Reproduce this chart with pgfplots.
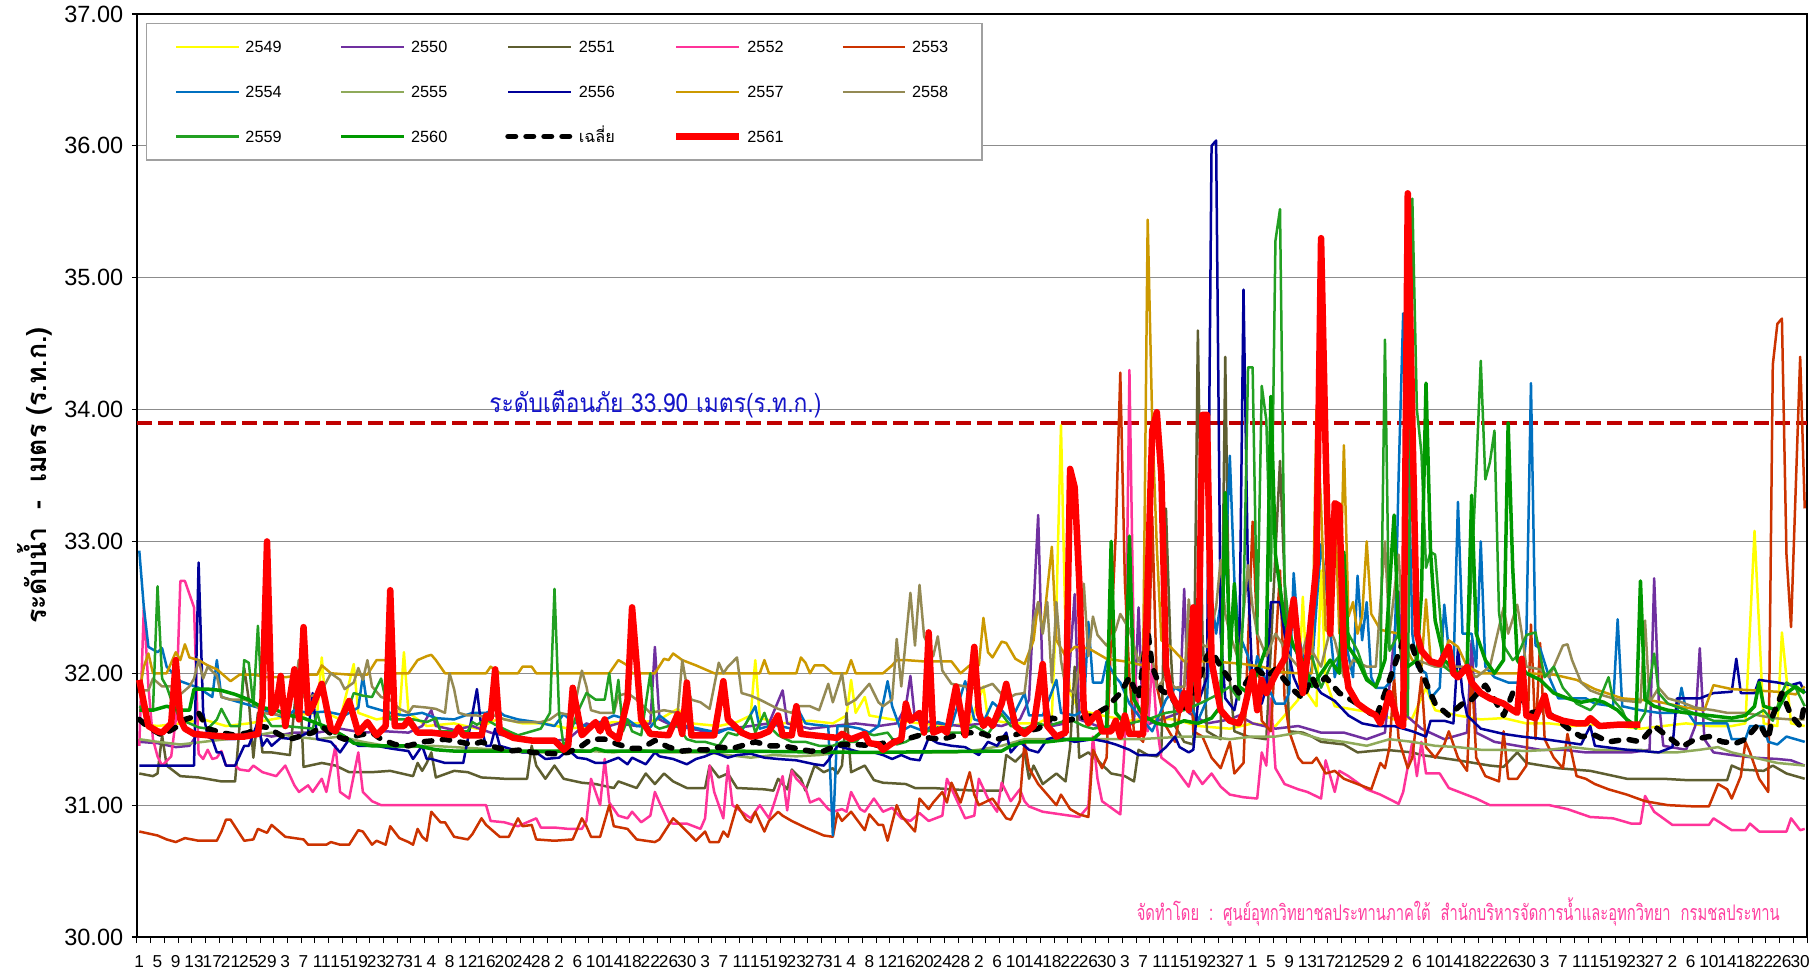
\documentclass[border=0pt]{standalone}
\usepackage{fontspec}
\setmainfont{Liberation Sans}
\newfontfamily\thaifont[Script=Thai]{Loma}
\usepackage{pgfplots}
\pgfplotsset{compat=1.18}
\definecolor{c2549}{HTML}{FFFF00}
\definecolor{c2550}{HTML}{7030A0}
\definecolor{c2551}{HTML}{5E5E30}
\definecolor{c2552}{HTML}{FF3399}
\definecolor{c2553}{HTML}{CC3300}
\definecolor{c2554}{HTML}{0070C0}
\definecolor{c2555}{HTML}{8FAA5A}
\definecolor{c2556}{HTML}{000099}
\definecolor{c2557}{HTML}{CC9900}
\definecolor{c2558}{HTML}{948A54}
\definecolor{c2559}{HTML}{22A022}
\definecolor{c2560}{HTML}{009900}
\definecolor{c2561}{HTML}{FF0000}
\definecolor{warn}{HTML}{C00000}
\definecolor{annot}{HTML}{1414C8}
\definecolor{credit}{HTML}{FF3FA0}
\definecolor{gridgray}{HTML}{8C8C8C}
\definecolor{legendgray}{HTML}{A0A0A0}
\begin{document}
\begin{tikzpicture}
\useasboundingbox (-54.8pt,-12.8pt) rectangle (672.4pt,374.8pt);
\begin{axis}[
  at={(0pt,0pt)}, anchor=south west,
  scale only axis, width=668pt, height=369.2pt,
  xmin=0.5, xmax=366.5, ymin=30, ymax=37,
  clip=false,
  axis line style={black, line width=0.6pt},
  tick pos=left,
  tick align=outside,
  xtick={1,5,...,365},
  xticklabels={1,5,9,13,17,21,25,29,3,7,11,15,19,23,27,31,4,8,12,16,20,24,28,2,6,10,14,18,22,26,30,3,7,11,15,19,23,27,31,4,8,12,16,20,24,28,2,6,10,14,18,22,26,30,3,7,11,15,19,23,27,1,5,9,13,17,21,25,29,2,6,10,14,18,22,26,30,3,7,11,15,19,23,27,2,6,10,14,18,22,26,30},
  major x tick style={draw=none},
  minor xtick={0.5,3.5,...,366.5},
  minor x tick style={black, line width=0.4pt},
  minor tick length=2.4pt,
  ytick={30,31,...,37},
  major tick length=2pt,
  major y tick style={black, line width=0.5pt},
  ymajorgrids, grid style={color=gridgray, line width=0.45pt},
  yticklabel style={font=\fontsize{9.4}{10}\selectfont, /pgf/number format/.cd, fixed, fixed zerofill, precision=2, assume math mode=true},
  xticklabel style={font=\fontsize{6.9}{7}\selectfont, yshift=-1.9pt},
  legend columns=5,
  legend style={at={(0,1)}, anchor=north west, xshift=3.6pt, yshift=-3.6pt, draw=legendgray, line width=0.6pt, fill=white, font=\fontsize{6.5}{7.5}\selectfont, inner xsep=11.3pt, inner ysep=4.35pt, row sep=8pt, nodes={text height=5pt, text depth=0.5pt, inner sep=2.2pt}, /tikz/every even column/.append style={column sep=21pt}, cells={anchor=west}},
  legend image code/.code={\draw[#1] (0pt,0pt) -- (25pt,0pt);},
  every axis plot/.append style={line join=round},
]
\addplot[forget plot, color=warn, line width=1.8pt, dash pattern=on 6pt off 2.4pt] coordinates {(0.5,33.9) (366.5,33.9)};

\addplot[color=c2549, line width=1pt] coordinates {(1,31.62)(5,31.6)(10,31.62)(15,31.65)(20,31.6)(25,31.62)(30,31.65)(35,31.68)(40,31.7)(41,32.12)(42,31.7)(45,31.65)(48,32.07)(49,31.7)(53,31.65)(58,31.68)(59,32.16)(60,31.7)(64,31.6)(70,31.62)(75,31.58)(80,31.66)(85,31.62)(90,31.62)(95,31.58)(100,31.6)(105,31.63)(110,31.62)(115,31.65)(119,31.73)(122,31.62)(128,31.6)(132,31.63)(135,31.68)(136,32.1)(137,31.66)(142,31.62)(148,31.64)(153,31.62)(156,31.68)(157,31.95)(158,31.7)(160,31.82)(161,31.68)(166,31.65)(172,31.62)(178,31.6)(183,31.62)(186,31.9)(187,31.65)(192,31.62)(198,31.62)(201,31.68)(202,32.5)(203,33.88)(204,32.3)(205,31.85)(207,31.72)(212,31.68)(218,31.64)(222,31.66)(228,31.65)(233,31.6)(240,31.58)(245,31.62)(250,31.6)(255,31.8)(256,32.58)(257,31.85)(259,31.75)(260,32.78)(261,31.95)(263,31.75)(268,31.72)(272,31.7)(276,31.65)(280,31.66)(283,31.89)(285,31.72)(290,31.68)(295,31.65)(300,31.66)(305,31.62)(310,31.62)(315,31.6)(320,31.61)(325,31.6)(330,31.58)(335,31.6)(340,31.62)(345,31.6)(350,31.6)(353,31.62)(355,33.08)(357,31.62)(360,31.6)(361,32.31)(363,31.62)(366,31.6)};
\addlegendentry{2549}

\addplot[color=c2550, line width=1pt] coordinates {(1,31.48)(5,31.47)(9,31.44)(12,31.45)(14,31.55)(18,31.5)(22,31.5)(26,31.55)(30,31.52)(35,31.55)(40,31.55)(45,31.58)(50,31.55)(55,31.56)(60,31.55)(63,31.6)(65,31.72)(66,31.6)(70,31.57)(74,31.6)(78,31.55)(82,31.52)(86,31.5)(90,31.48)(95,31.5)(99,31.62)(102,31.58)(106,31.62)(110,31.6)(113,31.62)(114,32.2)(115,31.65)(118,31.6)(122,31.58)(126,31.55)(130,31.58)(135,31.6)(139,31.62)(142,31.87)(143,31.62)(148,31.58)(153,31.6)(158,31.62)(163,31.6)(167,31.62)(169,31.75)(170,31.98)(171,31.65)(176,31.62)(181,31.6)(186,31.62)(190,31.6)(194,31.65)(196,31.8)(198,33.2)(199,31.9)(201,31.6)(204,31.62)(206,32.6)(207,31.65)(211,31.6)(215,31.58)(219,31.62)(220,32.5)(221,31.6)(225,31.65)(229,31.7)(230,32.64)(231,31.7)(235,31.62)(240,31.65)(242,31.68)(245,31.62)(250,31.58)(255,31.6)(260,31.55)(265,31.55)(270,31.5)(274,31.55)(277,32.62)(278,31.7)(282,31.58)(287,31.5)(292,31.55)(293,32.25)(294,31.55)(298,31.48)(303,31.45)(308,31.42)(313,31.42)(318,31.4)(323,31.4)(328,31.4)(332,31.42)(333,32.72)(334,31.8)(335,31.45)(340,31.42)(342,31.6)(343,32.19)(344,31.5)(346,31.4)(350,31.38)(355,31.36)(360,31.35)(363,31.34)(366,31.3)};
\addlegendentry{2550}

\addplot[color=c2551, line width=1pt] coordinates {(1,31.24)(4,31.22)(5,31.24)(6,31.53)(7,31.3)(10,31.22)(14,31.21)(19,31.18)(22,31.18)(24,32.04)(25,31.8)(26,31.36)(27,31.7)(28,31.4)(30,31.4)(34,31.38)(36,32.1)(37,31.29)(41,31.32)(44,31.3)(47,31.25)(52,31.25)(56,31.26)(61,31.22)(62,31.32)(63,31.26)(64,31.32)(65,31.4)(66,31.21)(70,31.26)(73,31.25)(76,31.21)(81,31.2)(86,31.2)(87,31.45)(88,31.3)(90,31.2)(92,31.3)(94,31.2)(98,31.17)(101,31.16)(105,31.13)(106,31.18)(110,31.13)(112,31.24)(114,31.16)(116,31.24)(118,31.18)(121,31.13)(125,31.13)(126,31.3)(128,31.21)(130,31.24)(132,31.13)(138,31.12)(140,31.11)(141,31.2)(143,31.12)(144,31.27)(146,31.2)(147,31.11)(149,31.3)(151,31.25)(153,31.28)(154,31.24)(155,31.3)(156,31.7)(157,31.25)(160,31.3)(162,31.19)(164,31.17)(169,31.16)(171,31.13)(175,31.13)(179,31.12)(184,31.11)(190,31.11)(191,31.38)(193,31.33)(195,31.4)(196,31.2)(197,31.3)(199,31.16)(202,31.24)(204,31.18)(205,31.44)(206,32.05)(207,31.36)(209,31.4)(211,31.34)(214,31.24)(217,31.22)(219,31.18)(220,31.42)(222,31.38)(224,31.37)(225,31.4)(226,33.25)(227,32.2)(228,31.6)(230,31.48)(232,31.46)(233,34.6)(234,32.3)(235,31.56)(238,31.5)(239,34.4)(240,31.95)(241,31.56)(244,31.52)(248,31.5)(251,33.61)(252,32.7)(253,31.56)(256,31.55)(258,31.52)(260,31.48)(265,31.46)(268,31.4)(274,31.42)(280,31.4)(282,31.38)(290,31.34)(297,31.3)(300,31.29)(303,31.4)(305,31.32)(312,31.28)(319,31.26)(327,31.2)(335,31.2)(340,31.19)(349,31.19)(350,31.3)(352,31.27)(357,31.26)(359,31.3)(362,31.24)(366,31.2)};
\addlegendentry{2551}

\addplot[color=c2552, line width=1pt] coordinates {(1,31.45)(2,32.5)(3,31.9)(4,31.5)(5,31.37)(6,31.3)(8,31.37)(9,31.65)(10,32.7)(11,32.7)(13,32.5)(14,31.39)(15,31.35)(16,31.42)(17,31.35)(18,31.36)(19,31.41)(20,31.3)(22,31.3)(23,31.27)(25,31.26)(26,31.3)(28,31.25)(31,31.22)(33,31.3)(35,31.15)(36,31.1)(38,31.15)(39,31.1)(41,31.2)(42,31.1)(44,31.45)(45,31.1)(47,31.05)(49,31.4)(50,31.1)(52,31.03)(54,31.0)(65,31.0)(77,31.0)(78,30.88)(81,30.87)(84,30.84)(88,30.9)(89,30.83)(92,30.83)(95,30.82)(98,30.82)(99,30.88)(100,31.2)(102,31.0)(103,31.35)(104,31.02)(106,30.92)(108,30.9)(109,30.95)(111,30.87)(113,30.92)(114,31.1)(115,31.02)(117,30.87)(118,30.86)(121,30.86)(124,30.82)(125,30.9)(126,31.3)(127,31.1)(129,30.9)(130,31.3)(131,31.0)(133,30.95)(135,30.9)(137,31.0)(139,30.9)(140,31.0)(142,31.22)(143,30.96)(144,31.26)(145,31.2)(147,31.13)(148,31.02)(150,31.05)(152,30.97)(153,30.95)(155,30.97)(156,30.95)(157,31.1)(159,30.97)(160,30.95)(162,31.05)(164,30.95)(166,30.98)(168,30.9)(170,30.88)(172,30.94)(174,30.88)(177,30.92)(178,31.2)(180,31.05)(182,30.9)(184,30.92)(185,31.2)(187,31.05)(189,30.95)(190,31.17)(191,31.1)(192,31.03)(194,31.12)(195,31.03)(196,30.99)(199,30.95)(203,30.93)(207,30.91)(209,30.99)(210,31.52)(211,31.2)(212,31.03)(214,30.98)(216,30.93)(217,31.48)(218,34.3)(219,32.09)(220,31.68)(222,31.56)(223,32.09)(224,31.6)(225,31.36)(228,31.28)(231,31.14)(232,31.26)(234,31.16)(236,31.24)(238,31.14)(240,31.08)(243,31.06)(246,31.05)(247,31.4)(248,31.3)(249,31.81)(250,31.28)(252,31.16)(255,31.12)(257,31.1)(260,31.05)(261,31.34)(263,31.1)(264,31.26)(266,31.22)(270,31.12)(273,31.08)(277,31.01)(278,31.1)(280,31.48)(281,31.22)(282,31.48)(283,31.24)(286,31.24)(288,31.13)(291,31.09)(294,31.05)(297,31.0)(310,31.0)(314,30.97)(319,30.91)(324,30.9)(328,30.86)(330,30.86)(331,31.07)(333,30.95)(337,30.85)(345,30.85)(346,30.9)(350,30.81)(353,30.81)(354,30.86)(356,30.8)(362,30.8)(363,30.9)(365,30.81)(366,30.82)};
\addlegendentry{2552}

\addplot[color=c2553, line width=1pt] coordinates {(1,30.8)(5,30.77)(7,30.74)(9,30.72)(11,30.75)(14,30.73)(18,30.73)(19,30.8)(20,30.89)(21,30.89)(24,30.73)(26,30.74)(27,30.82)(29,30.79)(30,30.85)(31,30.82)(33,30.76)(37,30.74)(38,30.7)(42,30.7)(43,30.72)(45,30.7)(47,30.7)(49,30.81)(50,30.8)(52,30.7)(53,30.73)(55,30.7)(56,30.84)(58,30.75)(60,30.72)(61,30.7)(62,30.82)(63,30.76)(64,30.73)(65,30.95)(67,30.87)(68,30.87)(70,30.76)(73,30.74)(74,30.78)(76,30.9)(77,30.85)(80,30.76)(82,30.76)(84,30.9)(85,30.84)(87,30.85)(88,30.74)(92,30.73)(96,30.74)(98,30.9)(99,30.84)(100,30.76)(102,30.76)(104,31.0)(105,30.84)(108,30.82)(110,30.74)(114,30.72)(115,30.74)(118,30.9)(119,30.87)(121,30.8)(123,30.73)(125,30.8)(126,30.72)(128,30.72)(129,30.8)(130,30.76)(132,31.0)(134,30.89)(135,30.87)(136,30.95)(138,30.8)(139,30.88)(141,30.95)(142,30.92)(144,30.88)(147,30.83)(149,30.8)(151,30.77)(153,30.76)(154,30.94)(155,30.88)(157,30.95)(160,30.81)(161,30.93)(163,30.85)(164,30.85)(165,30.73)(167,31.0)(168,30.92)(171,30.8)(172,31.05)(174,30.97)(175,31.02)(177,31.1)(178,31.02)(179,31.17)(181,31.02)(183,31.25)(184,31.08)(185,31.0)(188,31.05)(190,30.95)(191,30.9)(192,30.89)(194,31.03)(195,31.48)(196,31.28)(198,31.16)(200,31.08)(202,31.0)(203,31.08)(205,30.97)(207,30.93)(209,30.91)(210,31.42)(212,31.28)(213,31.36)(214,32.29)(215,33.06)(216,34.28)(217,32.7)(218,31.97)(219,31.55)(221,31.48)(222,31.77)(223,33.19)(224,31.9)(226,31.6)(228,31.48)(230,31.89)(231,32.4)(232,31.56)(234,31.52)(236,31.36)(238,31.28)(240,31.48)(241,31.24)(243,31.32)(245,33.15)(246,32.3)(247,31.64)(249,31.56)(251,32.78)(252,31.81)(253,31.56)(255,31.36)(256,31.32)(258,31.32)(259,31.36)(261,31.24)(263,31.26)(265,31.2)(268,31.16)(271,31.12)(273,31.32)(274,31.28)(275,31.44)(276,31.97)(277,31.5)(279,31.28)(280,31.36)(282,31.97)(283,31.44)(285,31.36)(287,31.46)(288,31.56)(290,31.36)(292,31.26)(293,32.05)(294,31.36)(296,31.22)(299,31.18)(300,31.56)(301,31.2)(303,31.2)(305,31.3)(306,32.37)(307,31.5)(308,32.23)(309,31.5)(311,31.36)(313,31.28)(314,31.54)(316,31.22)(318,31.2)(320,31.16)(323,31.12)(327,31.08)(331,31.03)(336,31.0)(342,30.99)(345,30.99)(347,31.16)(349,31.12)(350,31.05)(352,31.22)(353,31.48)(354,31.4)(356,31.2)(358,31.1)(359,34.34)(360,34.65)(361,34.69)(362,32.9)(363,32.35)(365,34.4)(366,33.25)};
\addlegendentry{2553}

\addplot[color=c2554, line width=1pt] coordinates {(1,32.93)(2,32.5)(3,32.2)(5,32.16)(6,32.19)(7,32.05)(10,31.94)(14,31.89)(17,31.82)(18,32.1)(19,31.82)(21,31.8)(24,31.77)(27,31.74)(30,31.7)(33,31.66)(35,31.72)(38,31.7)(42,31.71)(46,31.68)(49,31.74)(50,31.98)(51,31.75)(56,31.7)(59,31.68)(63,31.7)(66,31.66)(70,31.65)(74,31.7)(77,31.7)(79,31.73)(81,31.68)(84,31.65)(88,31.63)(92,31.6)(94,31.69)(96,31.63)(99,31.6)(102,31.63)(105,31.68)(108,31.65)(110,31.6)(113,31.59)(115,31.68)(118,31.6)(121,31.6)(125,31.57)(128,31.55)(130,31.58)(133,31.56)(136,31.75)(137,31.58)(140,31.61)(144,31.58)(145,31.75)(147,31.62)(149,31.61)(152,31.6)(153,30.77)(154,31.6)(156,31.6)(159,31.58)(161,31.55)(163,31.6)(165,31.94)(166,31.75)(168,31.56)(170,31.6)(173,31.56)(176,31.63)(179,31.6)(182,31.94)(184,31.65)(186,31.63)(188,31.78)(190,31.72)(192,31.64)(195,31.85)(196,31.68)(199,31.68)(202,31.95)(203,31.7)(206,31.68)(208,31.72)(209,32.39)(210,31.93)(212,31.93)(213,32.09)(215,31.97)(216,31.93)(218,31.77)(220,31.68)(223,31.56)(226,31.8)(228,31.89)(230,31.85)(233,31.64)(235,31.8)(236,32.58)(237,32.3)(239,32.78)(240,33.65)(241,32.7)(242,32.3)(244,32.13)(245,31.89)(246,32.13)(248,31.93)(250,31.77)(252,31.77)(253,31.85)(254,32.76)(255,32.3)(256,32.13)(257,31.89)(258,32.05)(260,32.98)(261,32.7)(263,31.97)(265,32.3)(267,31.97)(268,32.74)(269,32.25)(270,32.54)(271,31.97)(272,31.89)(274,31.89)(276,31.97)(277,33.5)(278,34.73)(279,33.9)(280,32.3)(281,32.05)(283,32.0)(284,31.81)(286,31.89)(287,32.52)(288,32.17)(289,32.0)(290,33.3)(291,32.3)(293,32.3)(294,32.05)(295,33.0)(296,32.05)(298,31.97)(301,31.93)(304,31.93)(305,32.29)(306,34.2)(307,32.21)(308,32.19)(310,31.97)(312,31.81)(318,31.81)(320,31.77)(324,31.75)(325,32.41)(326,31.75)(330,31.72)(334,31.7)(338,31.7)(339,31.89)(340,31.72)(342,31.62)(349,31.62)(350,31.5)(353,31.5)(354,31.6)(357,31.6)(358,31.48)(360,31.46)(362,31.52)(364,31.5)(366,31.48)};
\addlegendentry{2554}

\addplot[color=c2555, line width=1pt] coordinates {(1,31.5)(5,31.48)(10,31.46)(15,31.48)(20,31.5)(25,31.52)(30,31.55)(35,31.52)(40,31.5)(45,31.52)(50,31.48)(55,31.45)(60,31.44)(65,31.45)(70,31.44)(75,31.43)(80,31.42)(85,31.4)(90,31.4)(95,31.42)(100,31.41)(105,31.4)(110,31.42)(115,31.4)(120,31.4)(125,31.4)(130,31.38)(135,31.36)(140,31.38)(145,31.37)(150,31.38)(155,31.4)(160,31.4)(170,31.4)(180,31.4)(185,31.42)(190,31.45)(195,31.5)(200,31.5)(210,31.5)(220,31.5)(230,31.52)(235,31.52)(240,31.5)(245,31.52)(250,31.52)(255,31.55)(258,31.52)(260,31.5)(265,31.48)(270,31.45)(275,31.5)(280,31.48)(285,31.45)(290,31.44)(295,31.42)(300,31.42)(305,31.41)(310,31.42)(315,31.44)(320,31.42)(325,31.42)(330,31.42)(333,31.4)(338,31.4)(343,31.42)(347,31.44)(350,31.4)(355,31.36)(360,31.32)(366,31.3)};
\addlegendentry{2555}

\addplot[color=c2556, line width=1pt] coordinates {(1,31.3)(13,31.3)(14,32.84)(15,31.7)(16,31.52)(17,31.5)(18,31.4)(19,31.4)(20,31.3)(22,31.3)(24,31.45)(25,31.45)(27,31.63)(28,31.45)(29,31.5)(30,31.45)(32,31.51)(35,31.5)(38,31.55)(39,31.85)(40,31.5)(43,31.48)(45,31.4)(47,31.5)(49,31.45)(53,31.45)(56,31.43)(60,31.41)(61,31.35)(63,31.45)(64,31.35)(65,31.35)(68,31.32)(72,31.32)(73,31.5)(75,31.88)(76,31.58)(77,31.45)(78,31.45)(79,31.58)(80,31.45)(82,31.43)(85,31.4)(88,31.4)(90,31.35)(93,31.36)(95,31.42)(97,31.36)(99,31.35)(101,31.32)(103,31.32)(106,31.36)(108,31.31)(109,31.36)(112,31.31)(114,31.4)(115,31.37)(118,31.35)(121,31.31)(123,31.35)(125,31.37)(127,31.4)(130,31.36)(132,31.38)(135,31.39)(138,31.36)(141,31.35)(145,31.34)(149,31.31)(151,31.3)(152,31.34)(154,31.45)(156,31.43)(159,31.4)(162,31.4)(164,31.38)(166,31.35)(168,31.38)(170,31.35)(172,31.34)(174,31.51)(176,31.47)(179,31.45)(182,31.44)(185,31.38)(187,31.48)(189,31.45)(191,31.55)(192,31.4)(194,31.48)(196,31.42)(198,31.4)(200,31.5)(202,31.52)(204,31.5)(206,31.48)(210,31.5)(213,31.48)(215,31.46)(218,31.42)(220,31.38)(224,31.38)(226,31.44)(228,31.52)(229,31.44)(231,31.4)(232,31.42)(233,31.77)(235,31.97)(236,36.0)(237,36.04)(238,32.3)(239,31.81)(241,31.72)(242,31.89)(243,34.91)(244,32.7)(245,31.89)(247,31.77)(248,31.89)(249,32.54)(251,32.54)(252,32.3)(254,31.97)(255,31.89)(256,31.85)(258,31.95)(260,31.85)(263,31.79)(266,31.68)(269,31.62)(272,31.6)(276,31.6)(280,31.56)(283,31.52)(284,31.64)(287,31.64)(289,31.62)(290,32.19)(291,31.85)(292,31.68)(295,31.58)(300,31.54)(304,31.52)(309,31.5)(313,31.48)(317,31.46)(319,31.6)(320,31.45)(327,31.42)(334,31.4)(337,31.44)(338,31.81)(343,31.81)(346,31.85)(350,31.86)(351,32.11)(352,31.85)(355,31.85)(356,31.95)(360,31.93)(363,31.91)(365,31.93)(366,31.85)};
\addlegendentry{2556}

\addplot[color=c2557, line width=1pt] coordinates {(1,31.85)(2,32.05)(3,32.15)(4,32.0)(7,32.0)(9,32.16)(10,32.1)(11,32.22)(12,32.12)(14,32.1)(16,32.06)(18,32.03)(21,31.94)(23,31.99)(26,31.99)(29,31.97)(33,31.97)(37,31.99)(40,31.99)(41,32.06)(43,32.0)(47,31.99)(51,31.99)(53,32.1)(55,32.1)(56,32.0)(60,32.0)(62,32.1)(64,32.13)(65,32.14)(66,32.1)(68,32.0)(77,32.0)(78,32.05)(80,32.0)(84,32.0)(85,32.05)(87,32.05)(88,32.0)(104,32.0)(105,32.05)(106,32.1)(108,32.06)(109,32.0)(114,32.0)(116,32.11)(117,32.1)(118,32.15)(120,32.1)(123,32.06)(125,32.03)(127,32.0)(137,32.0)(138,32.1)(139,32.0)(145,32.0)(146,32.12)(147,32.08)(148,32.0)(149,32.06)(151,32.06)(153,32.0)(156,32.0)(157,32.1)(158,32.0)(164,32.0)(166,32.06)(167,32.1)(169,32.1)(173,32.09)(179,32.09)(181,32.0)(183,32.06)(185,32.06)(186,32.42)(187,32.16)(188,32.12)(190,32.24)(191,32.23)(193,32.11)(195,32.07)(197,32.25)(198,32.54)(199,32.31)(201,32.96)(202,32.25)(204,32.13)(206,32.2)(209,32.19)(213,32.11)(217,32.09)(221,32.06)(222,35.44)(223,33.9)(224,32.96)(225,32.25)(227,32.2)(230,32.09)(235,32.09)(240,32.08)(243,32.07)(247,32.05)(251,32.01)(255,32.0)(258,32.0)(259,34.0)(260,33.27)(261,32.33)(262,32.3)(263,33.3)(264,32.3)(265,33.73)(266,32.43)(267,32.54)(268,32.3)(269,32.43)(270,33.0)(271,32.45)(273,32.33)(277,32.3)(280,32.1)(282,32.05)(283,32.56)(284,32.1)(286,32.05)(288,32.25)(290,32.2)(292,32.05)(295,32.0)(305,32.0)(311,31.99)(316,31.95)(320,31.88)(326,31.81)(333,31.79)(340,31.74)(344,31.72)(346,31.91)(350,31.88)(355,31.87)(360,31.86)(364,31.84)(366,31.9)};
\addlegendentry{2557}

\addplot[color=c2558, line width=1pt] coordinates {(1,31.87)(3,31.87)(4,31.96)(6,31.9)(8,31.9)(10,31.84)(12,31.9)(13,31.96)(14,32.1)(15,31.96)(16,32.05)(18,31.98)(19,31.82)(21,31.8)(24,31.8)(26,31.78)(28,31.7)(30,31.69)(33,31.68)(35,31.9)(36,32.1)(37,31.82)(39,31.83)(41,31.87)(43,32.0)(45,31.95)(46,31.88)(48,31.93)(49,32.04)(50,31.95)(51,32.1)(52,31.9)(54,31.82)(56,31.8)(58,31.73)(60,31.7)(61,31.75)(64,31.74)(66,31.73)(68,31.7)(69,32.0)(70,31.88)(71,31.7)(73,31.68)(75,31.68)(77,31.67)(79,31.68)(81,31.65)(84,31.63)(89,31.63)(91,31.65)(93,31.7)(96,31.68)(98,32.02)(99,31.9)(100,31.72)(102,31.7)(105,31.7)(106,31.83)(108,31.85)(110,31.8)(113,31.7)(116,31.72)(119,31.7)(120,32.1)(121,31.9)(122,31.8)(124,31.78)(126,31.73)(128,32.08)(129,32.0)(130,32.05)(132,32.12)(133,31.85)(135,31.83)(137,31.8)(141,31.73)(144,31.7)(145,31.75)(148,31.75)(150,31.72)(152,31.92)(153,31.78)(155,32.0)(156,31.76)(158,31.8)(161,31.92)(163,31.78)(164,31.75)(166,31.8)(167,32.26)(168,31.9)(170,32.61)(171,32.21)(172,32.67)(173,32.28)(175,32.13)(176,32.28)(177,32.02)(179,31.92)(182,31.9)(185,31.88)(188,31.92)(191,31.8)(193,31.84)(195,31.85)(196,32.13)(197,32.4)(198,32.54)(199,32.3)(200,32.54)(201,31.93)(202,32.54)(203,32.1)(204,31.89)(206,31.85)(207,32.05)(208,32.68)(209,32.13)(210,32.43)(211,32.29)(213,32.21)(215,32.33)(216,32.45)(218,32.33)(220,32.09)(221,32.17)(223,32.13)(224,31.89)(226,31.97)(228,31.89)(230,31.9)(231,32.56)(232,32.25)(235,32.2)(237,32.5)(238,32.86)(239,32.45)(240,32.3)(242,32.09)(244,32.82)(245,32.5)(246,32.3)(248,32.13)(250,32.3)(251,32.25)(253,32.13)(255,32.05)(257,32.29)(258,32.17)(260,32.05)(262,32.33)(263,32.25)(265,31.97)(267,32.1)(270,32.05)(272,32.05)(274,33.0)(275,32.3)(277,32.9)(278,32.3)(281,32.1)(285,32.05)(288,32.05)(291,32.05)(294,31.97)(297,32.05)(300,32.5)(301,32.3)(303,32.52)(304,32.3)(305,32.05)(308,32.03)(310,31.97)(311,32.05)(313,32.21)(314,32.22)(315,32.1)(317,31.93)(319,31.87)(322,31.83)(325,31.8)(327,31.79)(330,31.78)(331,32.4)(332,31.78)(334,31.89)(336,31.81)(339,31.78)(342,31.74)(346,31.72)(349,31.7)(353,31.7)(356,31.68)(359,31.66)(363,31.65)(366,31.65)};
\addlegendentry{2558}

\addplot[color=c2559, line width=1pt] coordinates {(1,31.75)(2,31.73)(4,31.72)(5,32.66)(6,31.96)(7,31.9)(8,31.8)(10,31.65)(12,31.62)(14,31.59)(16,31.58)(18,31.65)(19,31.73)(21,31.6)(23,31.6)(24,32.1)(25,32.08)(26,31.75)(27,32.36)(28,31.7)(30,31.6)(33,31.6)(36,31.59)(39,31.58)(40,31.7)(41,31.58)(44,31.54)(47,31.75)(48,31.85)(50,31.83)(52,31.82)(53,31.89)(54,31.96)(55,31.8)(56,31.65)(58,31.65)(61,31.65)(64,31.63)(66,31.66)(67,31.56)(71,31.56)(73,31.56)(74,31.63)(75,31.61)(77,31.65)(79,31.61)(82,31.56)(84,31.53)(87,31.56)(89,31.58)(91,31.7)(92,32.64)(93,31.7)(94,31.45)(95,31.5)(97,31.7)(99,31.85)(101,31.8)(103,31.8)(104,32.0)(105,31.7)(106,31.95)(107,31.56)(108,31.65)(109,31.56)(111,31.53)(113,32.0)(114,31.6)(115,31.58)(117,31.6)(119,31.6)(121,31.5)(123,31.48)(125,31.48)(128,31.45)(130,31.55)(132,31.53)(134,31.62)(135,31.68)(136,31.55)(138,31.7)(139,31.6)(141,31.53)(144,31.48)(147,31.48)(150,31.45)(153,31.45)(155,31.48)(158,31.48)(160,31.55)(162,31.53)(165,31.55)(167,31.46)(169,31.48)(170,31.5)(173,31.55)(176,31.59)(178,31.55)(181,31.55)(184,31.6)(187,31.54)(190,31.69)(192,31.6)(195,31.58)(198,31.62)(200,31.6)(205,31.65)(208,31.6)(210,31.58)(214,31.6)(218,31.62)(222,31.65)(226,31.7)(230,31.72)(234,31.78)(238,31.85)(240,31.9)(242,31.8)(243,32.5)(244,34.32)(245,34.32)(246,32.3)(247,34.18)(248,33.92)(249,32.7)(250,35.28)(251,35.52)(252,32.7)(253,32.35)(254,32.2)(256,32.05)(258,32.13)(260,31.89)(262,32.05)(264,32.13)(266,32.3)(268,32.17)(270,31.97)(272,31.89)(273,31.97)(274,34.53)(275,32.17)(277,32.3)(279,31.68)(280,35.6)(281,34.0)(282,33.67)(283,32.8)(284,32.92)(285,32.9)(287,32.05)(290,31.97)(292,32.05)(294,33.53)(295,34.37)(296,33.47)(297,33.6)(298,33.84)(299,32.46)(300,32.21)(302,32.1)(303,32.13)(305,32.29)(307,32.31)(309,31.97)(311,32.05)(313,31.89)(316,31.77)(319,31.72)(321,31.8)(323,31.97)(324,31.8)(326,31.72)(327,31.64)(329,31.58)(331,31.7)(333,32.15)(334,31.85)(336,31.77)(340,31.72)(343,31.68)(346,31.64)(350,31.64)(353,31.64)(355,31.68)(357,31.72)(359,31.64)(361,31.85)(362,31.93)(364,31.89)(366,31.75)};
\addlegendentry{2559}

\addplot[color=c2560, line width=1.4pt] coordinates {(1,31.72)(4,31.72)(7,31.75)(10,31.72)(12,31.72)(13,31.88)(16,31.88)(19,31.87)(22,31.84)(25,31.8)(28,31.74)(31,31.72)(34,31.68)(37,31.66)(40,31.62)(43,31.58)(46,31.52)(48,31.47)(52,31.45)(57,31.45)(62,31.45)(66,31.42)(70,31.41)(100,31.41)(101,31.43)(103,31.41)(130,31.41)(160,31.4)(190,31.41)(192,31.45)(195,31.48)(200,31.48)(205,31.5)(210,31.5)(212,31.56)(213,31.6)(214,33.0)(215,31.7)(217,31.62)(218,33.04)(219,31.8)(221,31.68)(224,31.62)(227,31.6)(230,31.64)(233,31.62)(236,31.66)(238,31.75)(239,33.37)(240,32.1)(241,32.68)(242,31.9)(244,31.85)(246,32.0)(248,32.2)(249,34.1)(250,32.9)(252,32.4)(254,32.2)(256,32.1)(258,31.9)(260,32.0)(262,32.1)(264,32.0)(265,32.92)(266,32.2)(268,32.1)(270,31.95)(272,31.9)(274,32.1)(276,33.2)(277,32.3)(279,32.05)(281,32.1)(282,32.6)(283,34.2)(284,32.92)(285,32.4)(287,32.1)(290,32.0)(292,32.05)(293,33.35)(294,32.3)(296,32.1)(298,32.0)(300,32.1)(301,33.9)(302,32.8)(303,32.1)(305,32.0)(308,31.95)(311,31.85)(314,31.81)(317,31.78)(320,31.8)(322,31.78)(325,31.72)(327,31.65)(329,31.6)(330,32.7)(331,31.8)(333,31.75)(336,31.72)(340,31.7)(345,31.68)(350,31.66)(353,31.68)(355,31.75)(356,31.93)(357,31.75)(360,31.72)(362,31.85)(364,31.9)(366,31.85)};
\addlegendentry{2560}

\addplot[color=black, line width=2.2pt, dash pattern=on 3pt off 4.2pt, line cap=round] coordinates {(1,31.65)(3,31.59)(6,31.53)(9,31.59)(11,31.65)(13,31.67)(14,31.7)(16,31.58)(19,31.55)(22,31.53)(25,31.55)(27,31.6)(29,31.59)(32,31.53)(34,31.5)(37,31.53)(39,31.55)(41,31.6)(43,31.54)(46,31.5)(49,31.53)(52,31.55)(54,31.5)(57,31.46)(60,31.45)(63,31.48)(66,31.49)(68,31.5)(71,31.48)(74,31.46)(76,31.48)(79,31.44)(82,31.41)(85,31.42)(87,31.4)(92,31.39)(95,31.4)(98,31.45)(100,31.5)(103,31.5)(106,31.46)(109,31.43)(111,31.43)(114,31.49)(117,31.44)(120,31.41)(123,31.42)(126,31.42)(128,31.44)(131,31.43)(133,31.45)(136,31.48)(139,31.45)(142,31.45)(145,31.43)(148,31.41)(151,31.41)(153,31.44)(155,31.46)(158,31.46)(162,31.45)(165,31.48)(168,31.49)(170,31.51)(172,31.53)(174,31.51)(177,31.5)(180,31.53)(183,31.55)(186,31.54)(189,31.5)(192,31.52)(195,31.56)(198,31.58)(201,31.66)(204,31.64)(207,31.66)(210,31.68)(213,31.74)(216,31.85)(218,31.97)(220,31.81)(222,32.33)(223,32.05)(225,31.87)(227,31.83)(229,31.72)(231,31.76)(233,31.93)(235,32.13)(236,32.17)(238,32.05)(240,31.95)(242,31.85)(244,31.95)(246,32.03)(248,31.97)(250,32.03)(252,31.95)(254,31.87)(256,31.81)(258,31.97)(259,31.9)(261,31.97)(264,31.85)(267,31.79)(270,31.72)(272,31.66)(274,31.85)(276,32.05)(278,32.25)(280,32.21)(281,32.09)(283,31.93)(285,31.77)(288,31.68)(291,31.77)(293,31.8)(296,31.91)(298,31.8)(300,31.68)(302,31.85)(304,31.81)(306,31.7)(309,31.72)(312,31.64)(315,31.56)(317,31.52)(320,31.53)(323,31.48)(327,31.5)(330,31.48)(333,31.6)(336,31.52)(339,31.44)(342,31.5)(345,31.52)(348,31.48)(351,31.47)(353,31.5)(356,31.62)(358,31.5)(359,31.68)(361,31.85)(363,31.68)(365,31.6)(366,31.77)};
\addlegendentry{\thaifont เฉลี่ย}

\addplot[color=c2561, line width=2.6pt] coordinates {(1,31.95)(3,31.6)(5,31.56)(6,31.55)(8,31.62)(9,32.1)(10,31.65)(11,31.58)(13,31.54)(16,31.53)(20,31.52)(24,31.52)(27,31.54)(28,31.8)(29,33.0)(30,31.7)(31,31.75)(32,31.98)(33,31.6)(35,32.03)(36,31.65)(37,32.35)(38,31.7)(39,31.75)(41,31.92)(43,31.58)(44,31.56)(47,31.79)(49,31.55)(51,31.63)(53,31.53)(55,31.6)(56,32.63)(57,31.6)(59,31.6)(60,31.65)(62,31.55)(65,31.55)(70,31.53)(71,31.59)(72,31.53)(76,31.53)(77,31.68)(78,31.66)(79,32.03)(80,31.56)(83,31.51)(85,31.5)(87,31.49)(92,31.49)(94,31.42)(95,31.45)(96,31.89)(98,31.53)(101,31.63)(102,31.56)(103,31.65)(104,31.55)(106,31.5)(108,31.8)(109,32.5)(111,31.65)(113,31.54)(117,31.53)(119,31.69)(120,31.54)(121,31.93)(122,31.53)(127,31.53)(129,31.94)(130,31.65)(133,31.55)(135,31.52)(137,31.53)(139,31.56)(141,31.68)(142,31.53)(144,31.53)(145,31.75)(146,31.54)(154,31.51)(155,31.54)(157,31.5)(160,31.54)(161,31.47)(163,31.46)(164,31.42)(166,31.47)(168,31.5)(169,31.77)(170,31.64)(172,31.7)(173,31.55)(174,32.31)(175,31.55)(177,31.58)(178,31.55)(180,31.9)(182,31.53)(184,32.2)(185,31.7)(186,31.6)(187,31.65)(188,31.6)(190,31.77)(191,31.92)(193,31.6)(195,31.54)(197,31.6)(199,32.07)(200,31.6)(202,31.52)(204,31.55)(205,33.55)(206,33.41)(207,32.7)(208,31.72)(209,31.62)(211,31.7)(212,31.56)(214,31.56)(215,31.64)(216,31.52)(217,31.68)(218,31.54)(221,31.54)(223,33.84)(224,33.98)(225,33.5)(226,32.05)(227,31.85)(229,31.72)(230,31.85)(231,31.72)(232,32.5)(233,31.8)(234,33.96)(235,33.96)(236,32.09)(238,31.72)(240,31.64)(242,31.62)(243,31.7)(245,32.01)(246,31.72)(247,31.95)(248,31.85)(250,31.99)(252,32.11)(253,32.33)(254,32.56)(256,31.85)(257,32.13)(259,32.82)(260,35.3)(261,33.7)(262,32.3)(263,33.29)(264,33.27)(265,32.13)(266,31.89)(268,31.77)(270,31.72)(272,31.68)(273,31.62)(274,31.72)(275,31.85)(277,31.62)(278,31.6)(279,35.64)(280,33.92)(281,32.3)(282,32.17)(284,32.09)(286,32.07)(288,32.2)(289,32.0)(290,31.97)(292,32.05)(293,31.93)(295,31.85)(297,31.81)(300,31.77)(302,31.72)(303,31.7)(304,32.11)(305,31.68)(307,31.66)(309,31.83)(310,31.68)(313,31.64)(316,31.62)(318,31.62)(319,31.66)(321,31.6)(325,31.61)(330,31.61)};
\addlegendentry{2561}

\node[rotate=90, anchor=center, font=\thaifont\bfseries\fontsize{11}{13}\selectfont] at ([xshift=-40.8pt]rel axis cs:0,0.5) {\scalebox{0.97}[1]{ระดับน้ำ\ \ -\ \ เมตร (ร.ท.ก.)}};
\node[anchor=west, text=annot, font=\thaifont\fontsize{10.5}{12}\selectfont, inner sep=0pt] at (axis cs:77.6,34.04) {\scalebox{0.87}[1]{ระดับเตือนภัย 33.90 เมตร(ร.ท.ก.)}};
\node[anchor=east, text=credit, font=\thaifont\fontsize{8.6}{10}\selectfont, inner sep=0pt] at (axis cs:360.6,30.19) {\scalebox{0.686}[1]{จัดทำโดย\ \ :\ \ ศูนย์อุทกวิทยาชลประทานภาคใต้\ \ สำนักบริหารจัดการน้ำและอุทกวิทยา\ \ กรมชลประทาน}};
\end{axis}
\end{tikzpicture}
\end{document}
